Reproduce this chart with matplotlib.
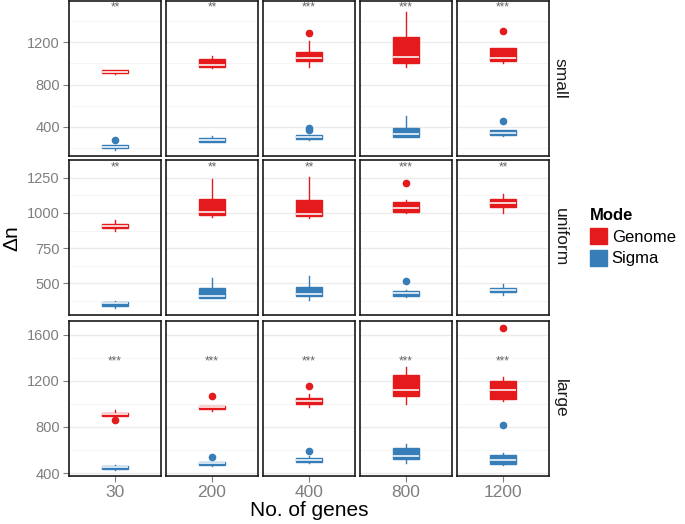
import numpy as np
import matplotlib
matplotlib.use("Agg")
import matplotlib.pyplot as plt
from matplotlib.patches import Patch

plt.rcParams['font.family'] = ['Liberation Sans', 'DejaVu Sans']

genes = ['30', '200', '400', '800', '1200']
sizes = ['small', 'uniform', 'large']

# significance labels per facet
stars = [['**', '**', '***', '***', '***'],
         ['**', '**', '**', '***', '**'],
         ['***', '***', '***', '***', '***']]
star_y = [1528, 1322, 1372]

# Genome box stats (rows: small, uniform, large; cols: genes)
genome_q1 = [[905, 962, 1025, 1000, 1025],
             [892, 988, 976, 1005, 1042],
             [892, 952, 999, 1073, 1042]]
genome_med = [[915, 981, 1048, 1063, 1048],
              [908, 1007, 993, 1035, 1071],
              [909, 970, 1024, 1125, 1122]]
genome_q3 = [[933, 1041, 1111, 1251, 1143],
             [922, 1097, 1092, 1075, 1101],
             [924, 981, 1053, 1249, 1197]]
genome_lo = [[902, 952, 968, 968, 1000],
             [870, 969, 962, 1000, 1000],
             [885, 941, 976, 1001, 1030]]
genome_hi = [[936, 1070, 1206, 1486, 1143],
             [948, 1240, 1259, 1092, 1134],
             [950, 981, 1088, 1318, 1232]]
genome_out = [[[], [], [1286], [], [1308]],
              [[], [], [], [1210], []],
              [[858], [1065], [1154], [], [1660]]]

# Sigma box stats
sigma_q1 = [[200, 254, 289, 302, 321],
            [340, 396, 408, 410, 439],
            [432, 469, 495, 521, 475]]
sigma_med = [[215, 276, 305, 333, 346],
             [356, 410, 422, 429, 455],
             [449, 486, 512, 552, 515]]
sigma_q3 = [[232, 298, 324, 394, 368],
            [370, 465, 474, 448, 467],
            [463, 498, 529, 621, 558]]
sigma_lo = [[184, 254, 277, 302, 318],
            [323, 392, 382, 405, 418],
            [430, 460, 483, 483, 466]]
sigma_hi = [[232, 311, 324, 508, 368],
            [375, 535, 552, 452, 493],
            [466, 498, 544, 656, 578]]
sigma_out = [[[273], [], [375, 390], [], [454]],
             [[], [], [], [519], []],
             [[], [535], [593], [], [820]]]

red = '#E41A1C'
blue = '#377EB8'
grid_col = '#EBEBEB'
tick_col = '#7F7F7F'

ylims = [(126, 1588), (274, 1377), (374, 1721)]
yticks = [[400, 800, 1200], [500, 750, 1000, 1250], [400, 800, 1200, 1600]]
yminor = [[200, 600, 1000, 1400], [375, 625, 875, 1125], [600, 1000, 1400]]

W, H = 685, 524
fig = plt.figure(figsize=(W / 100, H / 100), dpi=100)

col_left = [69, 166, 263, 360, 457]
row_top = [1, 160, 321]
pw, ph = 92, 155


def stats(q1, med, q3, lo, hi, out):
    return dict(q1=q1, med=med, q3=q3, whislo=lo, whishi=hi, fliers=out)


for r in range(3):
    for c in range(5):
        ax = fig.add_axes([col_left[c] / W, 1 - (row_top[r] + ph) / H, pw / W, ph / H])

        for col, q1, med, q3, lo, hi, out in [
                (red, genome_q1, genome_med, genome_q3, genome_lo, genome_hi, genome_out),
                (blue, sigma_q1, sigma_med, sigma_q3, sigma_lo, sigma_hi, sigma_out)]:
            st = stats(q1[r][c], med[r][c], q3[r][c], lo[r][c], hi[r][c], out[r][c])
            ax.bxp([st], positions=[1], widths=0.34, showcaps=False, patch_artist=True,
                   manage_ticks=False,
                   boxprops=dict(facecolor=col, edgecolor=col, lw=1.0),
                   medianprops=dict(color='#FBE3E3' if col == red else '#E1ECF6', lw=1.3),
                   whiskerprops=dict(color=col, lw=1.0),
                   flierprops=dict(marker='o', markerfacecolor=col, markeredgecolor=col,
                                   markersize=4.5))

        ax.set_xlim(0.4, 1.6)
        ax.set_ylim(*ylims[r])
        ax.set_yticks(yticks[r])
        ax.set_yticks(yminor[r], minor=True)
        ax.set_xticks([1])
        ax.set_xticklabels([genes[c]])
        ax.grid(True, which='major', axis='y', color=grid_col, lw=1.0)
        ax.grid(True, which='minor', axis='y', color='#F4F4F4', lw=0.6)
        ax.set_axisbelow(True)
        for s in ax.spines.values():
            s.set_color('#1a1a1a')
            s.set_linewidth(1.2)
        ax.tick_params(axis='y', which='minor', length=0)
        ax.tick_params(axis='both', which='major', color=tick_col, length=4.5, width=0.8)
        ax.tick_params(axis='y', labelsize=10.5, labelcolor=tick_col, pad=2)
        ax.tick_params(axis='x', labelsize=12.5, labelcolor=tick_col, pad=2)
        if c > 0:
            ax.tick_params(axis='y', length=0, labelleft=False)
        if r < 2:
            ax.tick_params(axis='x', length=0, labelbottom=False)

        ax.text(1, star_y[r], stars[r][c], ha='center', va='center', fontsize=8.5,
                color='#666666')

        if c == 4:
            ax.text(1.04, 0.5, sizes[r], transform=ax.transAxes, rotation=-90,
                    ha='left', va='center', fontsize=12.5, color='#1a1a1a')

fig.text(309 / W, 1 - 511 / H, 'No. of genes', ha='center', va='center', fontsize=15)
fig.text(12 / W, 1 - 238 / H, 'Δn', ha='center', va='center', fontsize=15, rotation=90)

handles = [Patch(facecolor=red, edgecolor=red), Patch(facecolor=blue, edgecolor=blue)]
leg = fig.legend(handles, ['Genome', 'Sigma'], loc='upper left',
                 bbox_to_anchor=(590 / W, 1 - 208 / H), frameon=False, borderpad=0,
                 borderaxespad=0, title='Mode', fontsize=12, title_fontsize=12,
                 handlelength=1.0, handleheight=1.1, handletextpad=0.3,
                 labelspacing=0.3, alignment='left')
leg.get_title().set_fontweight('bold')

fig.savefig('out.png', dpi=100)
